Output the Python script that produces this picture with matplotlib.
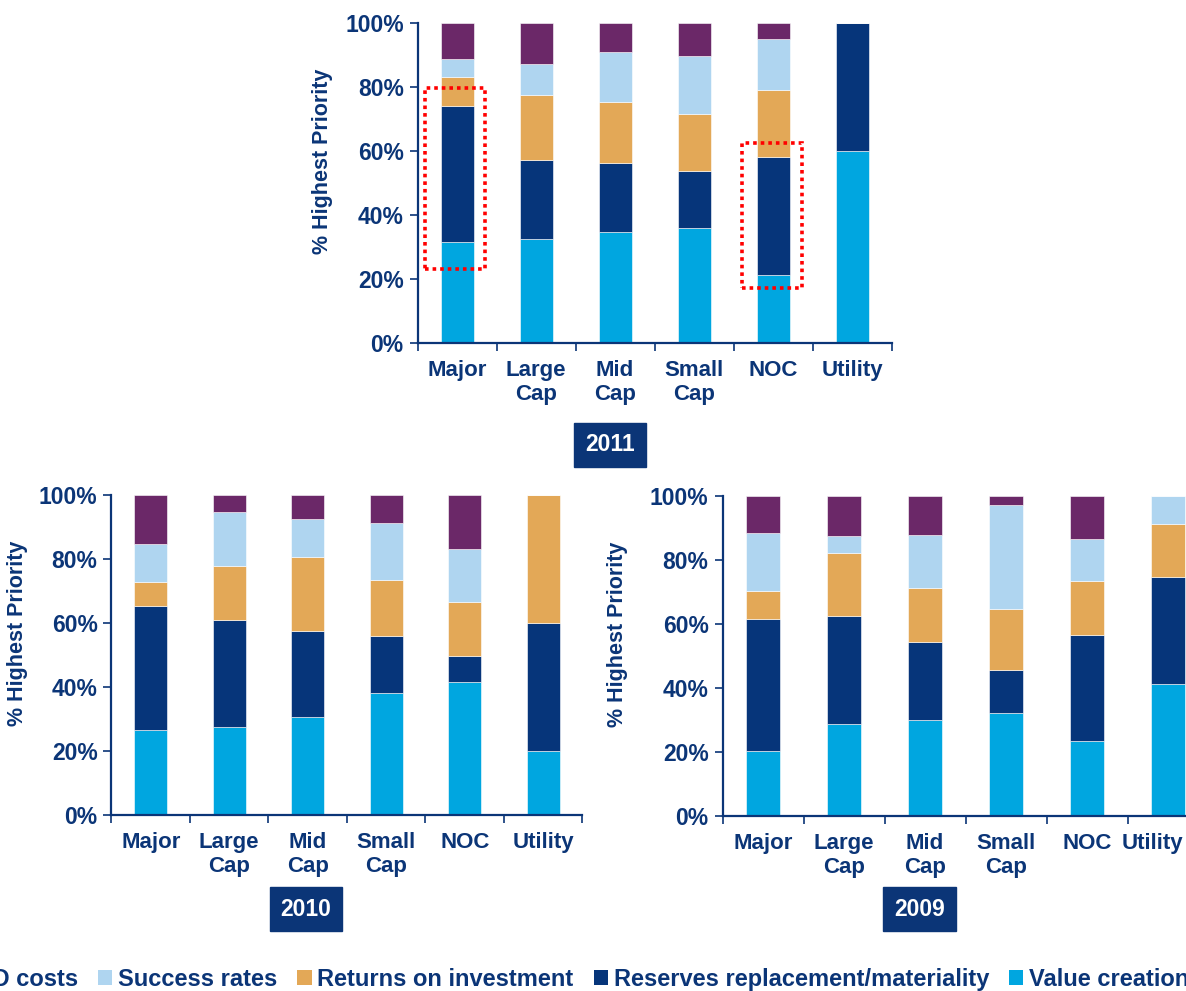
import matplotlib.pyplot as plt
from matplotlib.patches import Rectangle, Patch
from matplotlib.ticker import FixedLocator, PercentFormatter
from matplotlib.transforms import ScaledTranslation

plt.rcParams['font.family'] = ['Liberation Sans', 'DejaVu Sans']
plt.rcParams['font.weight'] = 'bold'

# categories and series
categories = ['Major', 'Large\nCap', 'Mid\nCap', 'Small\nCap', 'NOC', 'Utility']
series = ['F&D costs', 'Success rates', 'Returns on investment',
          'Reserves replacement/materiality', 'Value creation']

# % highest priority, per segment
value_2011 = [31.5, 32.5, 34.6, 35.8, 21.2, 60.0]
reserves_2011 = [42.7, 24.8, 21.7, 17.9, 36.8, 40.0]
returns_2011 = [8.8, 20.1, 18.9, 18.0, 21.0, 0.0]
success_2011 = [5.9, 9.9, 15.6, 18.0, 16.0, 0.0]
fd_2011 = [11.1, 12.7, 9.2, 10.3, 5.0, 0.0]

value_2010 = [26.7, 27.5, 30.6, 38.0, 41.5, 20.0]
reserves_2010 = [38.6, 33.5, 27.0, 17.9, 8.2, 40.0]
returns_2010 = [7.4, 16.7, 23.0, 17.4, 17.0, 40.0]
success_2010 = [11.9, 17.0, 11.9, 17.9, 16.5, 0.0]
fd_2010 = [15.4, 5.3, 7.5, 8.8, 16.8, 0.0]

value_2009 = [20.4, 28.6, 30.0, 32.3, 23.5, 41.4]
reserves_2009 = [41.1, 33.8, 24.5, 13.4, 33.2, 33.2]
returns_2009 = [8.8, 19.9, 16.7, 18.9, 16.7, 16.7]
success_2009 = [18.0, 5.2, 16.7, 32.6, 13.2, 8.7]
fd_2009 = [11.7, 12.5, 12.1, 2.8, 13.4, 0.0]

c_value = '#00A6E0'
c_res = '#06357A'
c_ret = '#E3A857'
c_suc = '#AFD5F0'
c_fd = '#6B2868'
navy = '#0B3577'


def draw(ax, segs, year, box_xy, label_x):
    x = list(range(len(categories)))
    bottom = [0] * len(x)
    for vals, col in zip(segs, [c_value, c_res, c_ret, c_suc, c_fd]):
        ax.bar(x, vals, 0.42, bottom=bottom, color=col, edgecolor='white', linewidth=0.4)
        bottom = [b + v for b, v in zip(bottom, vals)]
    ax.set_xlim(-0.5, 5.5)
    ax.set_ylim(0, 100)
    ax.set_yticks([0, 20, 40, 60, 80, 100])
    ax.yaxis.set_major_formatter(PercentFormatter(decimals=0))
    ax.set_xticks(x)
    ax.set_xticklabels(categories, fontsize=16, color=navy, fontweight='bold', linespacing=1.2)
    ax.xaxis.set_minor_locator(FixedLocator([i - 0.5 for i in range(7)]))
    ax.tick_params(axis='x', which='major', length=0, pad=12)
    ax.tick_params(axis='x', which='minor', length=6, width=1.2, color=navy, direction='out')
    ax.tick_params(axis='y', length=6, width=1.2, color=navy, labelsize=16.5, labelcolor=navy, pad=4)
    for lab in ax.get_yticklabels():
        lab.set_fontweight('bold')
    for s in ['top', 'right']:
        ax.spines[s].set_visible(False)
    for s in ['left', 'bottom']:
        ax.spines[s].set_color(navy)
        ax.spines[s].set_linewidth(1.6)
    ax.set_ylabel('% Highest Priority', fontsize=15.5, color=navy, fontweight='bold')
    ax.yaxis.set_label_coords(label_x, 0.567)
    fig.text(box_xy[0], box_xy[1], year, ha='center', va='center', color='white',
             fontsize=16.5, fontweight='bold',
             bbox=dict(boxstyle='square,pad=0.47', facecolor=navy, edgecolor=navy))


fig = plt.figure(figsize=(11.86, 9.91), dpi=100)

ax1 = fig.add_axes([0.3521, 0.6539, 0.3997, 0.3229])
draw(ax1, [value_2011, reserves_2011, returns_2011, success_2011, fd_2011],
     '2011', (0.5144, 0.5510), -0.178)

ax2 = fig.add_axes([0.0940, 0.1776, 0.3971, 0.3229])
draw(ax2, [value_2010, reserves_2010, returns_2010, success_2010, fd_2010],
     '2010', (0.2580, 0.0827), -0.178)

ax3 = fig.add_axes([0.6092, 0.1766, 0.4098, 0.3229])
draw(ax3, [value_2009, reserves_2009, returns_2009, success_2009, fd_2009],
     '2009', (0.7753, 0.0827), -0.195)
# last label sits against the right edge in the original
last = ax3.get_xticklabels()[-1]
last.set_horizontalalignment('right')
last.set_transform(last.get_transform() + ScaledTranslation(0.15, 0, fig.dpi_scale_trans))

# red dotted highlight boxes on 2011
for (x0, y0, w, h) in [(-0.40, 23.0, 0.75, 56.8), (3.60, 17.2, 0.76, 45.3)]:
    ax1.add_patch(Rectangle((x0, y0), w, h, fill=False, edgecolor='#FF0000',
                            linewidth=2.6, linestyle=(0, (1, 1.1)), clip_on=False, zorder=5))

handles = [Patch(facecolor=c, edgecolor='none') for c in [c_fd, c_suc, c_ret, c_res, c_value]]
fig.legend(handles, series, loc='center left', bbox_to_anchor=(-0.050, 0.0121), ncol=5,
           frameon=False, handlelength=0.6, handleheight=0.6,
           handletextpad=0.25, columnspacing=0.85, borderpad=0, borderaxespad=0,
           labelcolor=navy, prop={'weight': 'bold', 'size': 17})

fig.savefig('out.png', dpi=100)
